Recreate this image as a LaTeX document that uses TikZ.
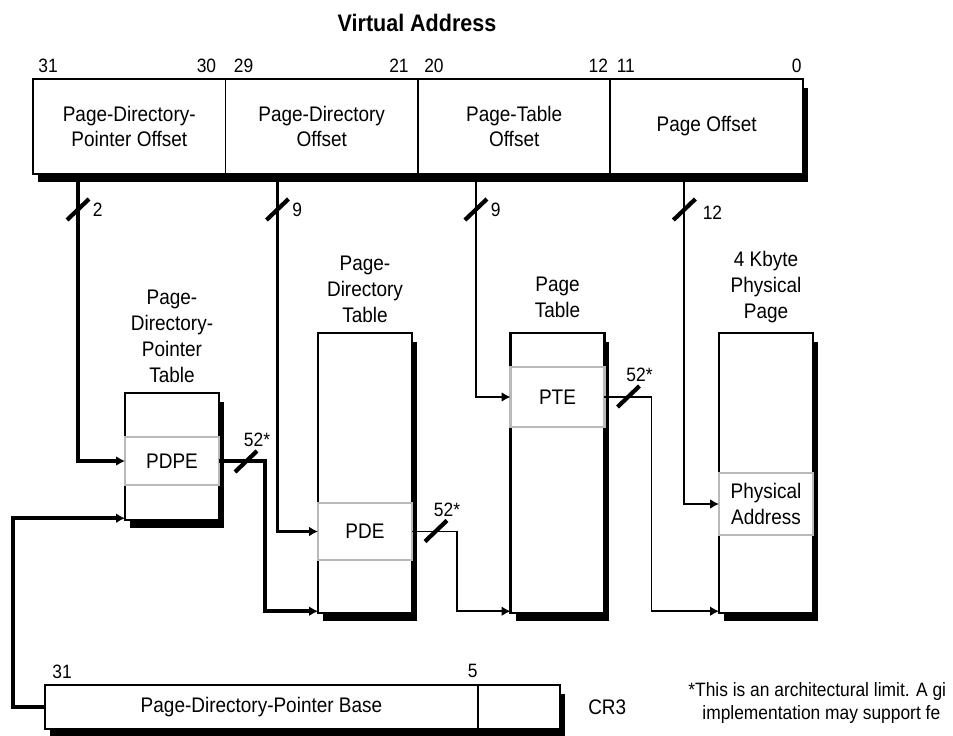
\documentclass[tikz,border=0pt]{standalone}
\usepackage{fontspec}
\setmainfont{Liberation Sans}[FakeStretch=0.9]
\usetikzlibrary{arrows.meta,positioning,fit,backgrounds,shadows}

\begin{document}
\begin{tikzpicture}[
  x=0.02cm, y=-0.02cm,
  font=\fontsize{12}{14.7}\selectfont,
  field/.style={draw, line width=1.1pt, outer sep=0pt, inner sep=0pt, align=center,
                minimum width=3.85cm, minimum height=1.9cm},
  blackshadow/.style={drop shadow={shadow xshift=0.1cm, shadow yshift=-0.17cm,
                      opacity=1, fill=black}},
  tabbox/.style={draw, line width=1.5pt, fill=white, outer sep=0pt,
                 minimum width=1.88cm, minimum height=#1, blackshadow},
  rowbox/.style={draw=gray!55, line width=1.6pt, fill=white, outer sep=0pt, inner sep=0pt,
                 align=center, minimum width=1.88cm, minimum height=#1},
  cr3field/.style={draw, line width=1.3pt, outer sep=0pt, inner sep=0pt, minimum height=0.88cm},
  caption/.style={align=center, inner sep=0pt},
  bitno/.style={inner sep=0pt, font=\fontsize{11}{13}\selectfont},
  bus/.style={line width=2.2pt},
  midbus/.style={line width=1.6pt},
  thinbus/.style={line width=1.1pt},
  arrow/.style={-{Latex[length=5pt,width=5.5pt]}},
  wtick/.style={line width=2.4pt}
]
\useasboundingbox (0,0) rectangle (953,736);

% linear address
\node[font=\fontsize{13.6}{16}\selectfont\bfseries] (vtitle) at (417,23) {Virtual Address};
\node[field] (pdpo) at (129.25,126.5) {Page-Directory-\\Pointer Offset};
\node[field, right=0pt of pdpo] (pdo) {Page-Directory\\Offset};
\node[field, right=0pt of pdo] (pto) {Page-Table\\Offset};
\node[field, right=0pt of pto] (po) {Page Offset};
\begin{scope}[on background layer]
  \node[fit=(pdpo)(po), inner sep=0pt, fill=white, blackshadow] (vaddr) {};
\end{scope}

\node[bitno, anchor=base west] (b31) at ([shift={(5,-7)}]pdpo.north west) {31};
\node[bitno, anchor=base east] (b30) at ([shift={(-9,-7)}]pdpo.north east) {30};
\node[bitno, anchor=base west] (b29) at ([shift={(8,-7)}]pdo.north west) {29};
\node[bitno, anchor=base east] (b21) at ([shift={(-9,-7)}]pdo.north east) {21};
\node[bitno, anchor=base west] (b20) at ([shift={(6,-7)}]pto.north west) {20};
\node[bitno, anchor=base east] (b12) at ([shift={(-2,-7)}]pto.north east) {12};
\node[bitno, anchor=base west] (b11) at ([shift={(6,-7)}]po.north west) {11};
\node[bitno, anchor=base east] (b0) at ([shift={(-1,-7)}]po.north east) {0};

% tables
\node[tabbox=2.54cm] (pdpt) at (172,456.5) {};
\node[tabbox=5.6cm] (pdt) at (365,473) {};
\node[tabbox=5.6cm] (pt) at (557.5,473) {};
\node[tabbox=5.6cm] (pp) at (766,473) {};

\node[rowbox=0.96cm] (pdpe) at (172,461) {PDPE};
\node[rowbox=1.14cm] (pde) at (365,531.5) {PDE};
\node[rowbox=1.2cm] (pte) at (557.5,397) {PTE};
\node[rowbox=1.24cm] (phys) at (766,504) {Physical\\Address};

\node[caption, above=0.2cm of pdpt] (pdptlbl) {Page-\\Directory-\\Pointer\\Table};
\node[caption, above=0.2cm of pdt] (pdtlbl) {Page-\\Directory\\Table};
\node[caption, above=0.3cm of pt] (ptlbl) {Page\\Table};
\node[caption, above=0.2cm of pp] (pplbl) {4 Kbyte\\Physical\\Page};

% CR3
\node[cr3field, minimum width=8.66cm] (cr3base) at (261.5,707) {Page-Directory-Pointer Base};
\node[cr3field, minimum width=1.64cm, right=0pt of cr3base] (cr3low) {};
\begin{scope}[on background layer]
  \node[fit=(cr3base)(cr3low), inner sep=0pt, fill=white, blackshadow] (cr3box) {};
\end{scope}
\node[bitno, anchor=base west] (c31) at ([shift={(7,-7)}]cr3base.north west) {31};
\node[bitno, anchor=base east] (c5) at ([shift={(0,-8)}]cr3base.north east) {5};
\node[inner sep=0pt, right=0.56cm of cr3low] (cr3) {CR3};

% index fields
\draw[bus, arrow] ([xshift=0.9cm]pdpo.south west) coordinate (i2) |- (pdpe.west);
\draw[bus, arrow] ([xshift=1.04cm]pdo.south west) coordinate (i9a) |- (pde.west);
\draw[midbus, arrow] ([xshift=1.16cm]pto.south west) coordinate (i9b) |- (pte.west);
\draw[thinbus, arrow] ([xshift=1.48cm]po.south west) coordinate (i12) |- (phys.west);

\draw[wtick] ([shift={(-11,46)}]i2) -- ++(22,-21) node[bitno, anchor=north west, inner sep=1pt] {2};
\draw[wtick] ([shift={(-11,46)}]i9a) -- ++(22,-21) node[bitno, anchor=north west, inner sep=1pt] {9};
\draw[wtick] ([shift={(-11,46)}]i9b) -- ++(22,-21) node[bitno, anchor=north west, inner sep=1pt] {9};
\draw[wtick] ([shift={(-11,46)}]i12) -- ++(22,-21) node[bitno, anchor=north west, inner sep=3pt] {12};

% base addresses
\draw[bus, arrow] (pdpe.east) -- ++(46,0) |- ([yshift=1pt]pdt.south west);
\draw[thinbus, arrow] (pde.east) -- ++(45,0) |- ([yshift=1pt]pt.south west);
\draw[thinbus, arrow] (pte.east) -- ++(47,0) |- ([yshift=1pt]pp.south west);
\draw[bus, arrow] (cr3base.west) -- ++(-32,0) |- ([yshift=1pt]pdpt.south west);

\draw[wtick] ([shift={(16,11)}]pdpe.east) -- ++(22,-21) node[bitno, anchor=south, inner sep=1pt] {52*};
\draw[wtick] ([shift={(13,10)}]pde.east) -- ++(22,-21) node[bitno, anchor=south, inner sep=1pt] {52*};
\draw[wtick] ([shift={(13,10)}]pte.east) -- ++(22,-21) node[bitno, anchor=south, inner sep=1pt] {52*};

\node[anchor=west, align=left, inner sep=0pt, font=\fontsize{11}{13.6}\selectfont] (note)
  at (688,703) {*This is an architectural limit. A gi\\\hspace*{8pt}implementation may support fe};
\end{tikzpicture}
\end{document}
